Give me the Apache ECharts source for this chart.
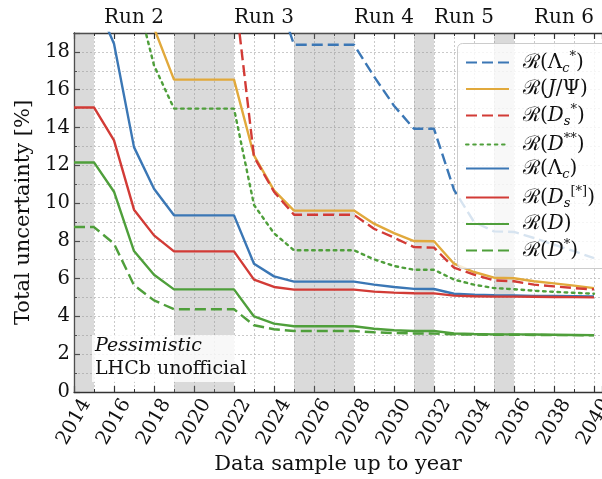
<!DOCTYPE html>
<html>
<head>
<meta charset="utf-8">
<script src="https://cdn.jsdelivr.net/npm/echarts@6/dist/echarts.min.js"></script>
<style>html,body{margin:0;padding:0;background:#fff;}#c{width:602px;height:479px;}</style>
</head>
<body>
<div id="c"></div>
<script>
// ---- data ----
const years = [2014,2015,2016,2017,2018,2019,2020,2021,2022,2023,2024,2025,2026,2027,2028,2029,2030,2031,2032,2033,2034,2035,2036,2037,2038,2039,2040];
const R_LcStar = [null,null,null,null,null,null,null,null,null,null,21.5,18.38,18.38,18.38,18.38,16.7,15.15,13.93,13.93,10.7,9.0,8.5,8.47,8.15,7.8,7.45,7.08];
const R_JPsi   = [null,null,null,null,19.27,16.53,16.53,16.53,16.53,12.52,10.67,9.6,9.6,9.6,9.6,8.91,8.41,7.99,7.98,6.79,6.35,6.05,6.02,5.86,5.75,5.63,5.5];
const R_DsStar = [null,null,null,null,null,null,null,null,21.5,12.45,10.6,9.38,9.38,9.38,9.38,8.64,8.17,7.67,7.64,6.58,6.21,5.91,5.86,5.68,5.59,5.5,5.43];
const R_Dss    = [null,null,null,21.5,17.29,15.0,15.0,15.0,15.0,9.9,8.4,7.5,7.5,7.5,7.5,7.02,6.67,6.47,6.47,5.95,5.68,5.5,5.44,5.36,5.3,5.25,5.2];
const R_Lc     = [null,20.9,18.43,12.96,10.76,9.35,9.35,9.35,9.35,6.79,6.12,5.84,5.84,5.84,5.84,5.68,5.56,5.46,5.45,5.2,5.15,5.12,5.11,5.09,5.08,5.07,5.06];
const R_Ds     = [15.06,15.06,13.32,9.65,8.29,7.44,7.44,7.44,7.44,5.95,5.56,5.42,5.42,5.42,5.42,5.31,5.26,5.23,5.22,5.1,5.07,5.05,5.05,5.04,5.03,5.02,5.01];
const R_D      = [12.15,12.15,10.6,7.46,6.21,5.43,5.43,5.43,5.43,4.0,3.62,3.48,3.48,3.48,3.48,3.35,3.27,3.23,3.23,3.1,3.07,3.05,3.05,3.04,3.03,3.02,3.01];
const R_DStar  = [8.73,8.73,7.85,5.65,4.85,4.38,4.38,4.38,4.38,3.53,3.32,3.23,3.23,3.23,3.23,3.16,3.12,3.1,3.09,3.05,3.04,3.03,3.03,3.02,3.01,3.01,3.0];
const shutdowns = [[2014,2015],[2019,2022],[2025,2028],[2031,2032],[2035,2036]];
const runLabels = ['Run 2','Run 3','Run 4','Run 5','Run 6'];
const runCenters = [2017,2023.5,2029.5,2033.5,2038.5];
const xTickLabels = ['2014','2016','2018','2020','2022','2024','2026','2028','2030','2032','2034','2036','2038','2040'];
const yTickLabels = ['0','2','4','6','8','10','12','14','16','18'];

const BLUE='#3b77b5', ORANGE='#e1a93c', RED='#d23b36', GREEN='#4f9f3b';
const FONT='DejaVu Serif';

const seriesDefs = [
  {name:'Lc*',  data:R_LcStar, color:BLUE,   type:[11,5]},
  {name:'JPsi', data:R_JPsi,   color:ORANGE, type:'solid'},
  {name:'Ds*',  data:R_DsStar, color:RED,    type:[11,5]},
  {name:'D**',  data:R_Dss,    color:GREEN,  type:[2.6,4.6]},
  {name:'Lc',   data:R_Lc,     color:BLUE,   type:'solid'},
  {name:'Ds',   data:R_Ds,     color:RED,    type:'solid'},
  {name:'D',    data:R_D,      color:GREEN,  type:'solid'},
  {name:'D*',   data:R_DStar,  color:GREEN,  type:[11,5]}
];
const legendText = {
  'Lc*':  '{r|ℛ(Λ}{sub|c}{sup|*}{r|)}',
  'JPsi': '{r|ℛ(}{i|J}{r|/Ψ)}',
  'Ds*':  '{r|ℛ(}{i|D}{sub|s}{sup|*}{r|)}',
  'D**':  '{r|ℛ(}{i|D}{sup|**}{r|)}',
  'Lc':   '{r|ℛ(Λ}{sub|c}{r|)}',
  'Ds':   '{r|ℛ(}{i|D}{sub|s}{sup|[*]}{r|)}',
  'D':    '{r|ℛ(}{i|D}{r|)}',
  'D*':   '{r|ℛ(}{i|D}{sup|*}{r|)}'
};

const chart = echarts.init(document.getElementById('c'), null, {renderer:'canvas'});
const gridLine = {show:true, lineStyle:{color:'#bdbdbd', type:[2,2], width:0.8}};
const series = seriesDefs.map((s,k)=>({
  name:s.name, type:'line', symbol:'none', showSymbol:false, clip:true,
  legendIcon:'rect',
  data: years.map((y,i)=>[y, s.data[i]]),
  connectNulls:false,
  lineStyle:{color:s.color, width:2.4, type:s.type, cap: s.name==='D**'?'round':'butt'},
  itemStyle:{color:s.color},
  z: 2,
  markArea: k===0 ? {silent:true, itemStyle:{color:'rgba(140,140,140,0.32)'},
     data: shutdowns.map(b=>[{xAxis:b[0]},{xAxis:b[1]}])} : undefined
}));

chart.setOption({
  animation:false,
  backgroundColor:'#fff',
  grid:{left:74, right:0, top:33, bottom:87, containLabel:false, outerBoundsMode:'none'},
  xAxis:[{
    type:'value', min:2014, max:2040.4, interval:2, position:'bottom',
    axisLine:{show:true, onZero:false, lineStyle:{color:'#333', width:1.3}},
    axisTick:{show:true, inside:true, length:6, lineStyle:{color:'#333', width:1.2}},
    minorTick:{show:true, splitNumber:2, length:3, lineStyle:{color:'#333', width:1}},
    splitLine:gridLine,
    minorSplitLine:gridLine,
    axisLabel:{rotate:60, align:'center', verticalAlign:'middle', fontFamily:FONT, fontSize:19.5, color:'#111', margin:30,
      hideOverlap:false,
      formatter:v=>{const s=String(v); return xTickLabels.includes(s)?s:'';}},
    name:'Data sample up to year', nameLocation:'middle', nameGap:62, nameMoveOverlap:false,
    nameTextStyle:{fontFamily:FONT, fontSize:21, color:'#111'}
  },{
    type:'value', min:2014, max:2040.4, interval:2, position:'top',
    axisLine:{show:true, onZero:false, lineStyle:{color:'#333', width:1.3}},
    axisTick:{show:true, inside:true, length:6, lineStyle:{color:'#333', width:1.2}},
    minorTick:{show:true, splitNumber:2, length:3, lineStyle:{color:'#333', width:1}},
    splitLine:{show:false}, axisLabel:{show:false}
  }],
  yAxis:{
    type:'value', min:0, max:19, interval:2,
    axisLine:{show:true, onZero:false, lineStyle:{color:'#333', width:1.3}},
    axisTick:{show:true, inside:true, length:6, lineStyle:{color:'#333', width:1.2}},
    minorTick:{show:true, splitNumber:2, length:3, lineStyle:{color:'#333', width:1}},
    splitLine:gridLine, minorSplitLine:gridLine,
    axisLabel:{fontFamily:FONT, fontSize:19.5, color:'#111', margin:4,
      formatter:v=>{const s=String(v); return yTickLabels.includes(s)?s:'';}},
    name:'Total uncertainty [%]', nameLocation:'middle', nameGap:40, nameMoveOverlap:false,
    nameTextStyle:{fontFamily:FONT, fontSize:21, color:'#111'}
  },
  legend:{
    show:true, orient:'vertical', left:457, top:43, z:6,
    padding:[7,10,10,8], itemGap:4, itemWidth:43, itemHeight:14,
    data: seriesDefs.map(s=>({name:s.name})),
    itemStyle:{opacity:0},
    formatter: n=>legendText[n],
    textStyle:{fontFamily:FONT, fontSize:20, color:'#111', lineHeight:20, padding:[0,0,0,9],
      rich:{
        r:{fontFamily:FONT, fontSize:20, color:'#111'},
        i:{fontFamily:FONT, fontSize:20, fontStyle:'italic', color:'#111'},
        sub:{fontFamily:FONT, fontSize:13, fontStyle:'italic', color:'#111', padding:[12,0,0,0]},
        sup:{fontFamily:FONT, fontSize:13, color:'#111', padding:[0,0,12,0]}
      }}
  },
  series: series
});

// Run labels above the top axis, positioned through the x scale
const g = runLabels.map((t,i)=>{
  const px = chart.convertToPixel({xAxisIndex:0}, runCenters[i]);
  return {type:'text', x:px, y:18, style:{text:t, fontFamily:FONT, fontSize:20, fill:'#111', align:'center', verticalAlign:'middle'}};
});
// legend frame (extends past the right edge like the original)
g.push({type:'rect', z:5, shape:{x:457.5, y:43.5, width:170, height:225, r:5},
  style:{fill:'rgba(255,255,255,0.8)', stroke:'#cccccc', lineWidth:1}});
g.push({type:'rect', z:5, shape:{x:92, y:335, width:143, height:47}, style:{fill:'rgba(255,255,255,0.8)'}});
g.push({type:'text', z:6, x:95, y:346, style:{text:'Pessimistic', fontFamily:FONT, fontStyle:'italic', fontSize:19, fill:'#111', verticalAlign:'middle'}});
g.push({type:'text', z:6, x:95, y:369.5, style:{text:'LHCb unofficial', fontFamily:FONT, fontSize:19, fill:'#111', verticalAlign:'middle'}});
chart.setOption({graphic:{elements:g}});
</script>
</body>
</html>
